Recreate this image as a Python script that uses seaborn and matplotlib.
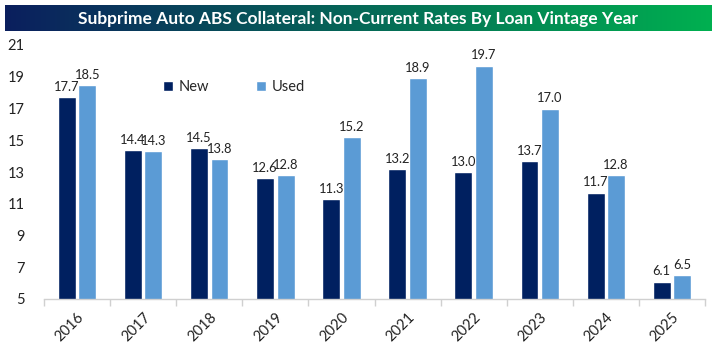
import matplotlib
matplotlib.use("Agg")
import matplotlib.pyplot as plt
import numpy as np
import pandas as pd
import seaborn as sns
from matplotlib.colors import LinearSegmentedColormap

years = ["2016", "2017", "2018", "2019", "2020", "2021", "2022", "2023", "2024", "2025"]
new_rates = [17.7, 14.4, 14.5, 12.6, 11.3, 13.2, 13.0, 13.7, 11.7, 6.1]
used_rates = [18.5, 14.3, 13.8, 12.8, 15.2, 18.9, 19.7, 17.0, 12.8, 6.5]
y_ticks = [5, 7, 9, 11, 13, 15, 17, 19, 21]
title = "Subprime Auto ABS Collateral: Non-Current Rates By Loan Vintage Year"

NAVY = "#002060"
LIGHT = "#5b9bd5"

sns.set_theme(style="white")
plt.rcParams["font.family"] = ["Lato", "DejaVu Sans"]

df = pd.DataFrame({
    "year": years * 2,
    "rate": new_rates + used_rates,
    "type": ["New"] * len(years) + ["Used"] * len(years),
})

fig = plt.figure(figsize=(7.18, 3.5), dpi=100)
ax = fig.add_axes([44 / 718, 51 / 350, 661 / 718, 254 / 350])

sns.barplot(data=df, x="year", y="rate", hue="type", order=years,
            hue_order=["New", "Used"], palette=[NAVY, LIGHT], saturation=1,
            width=0.62, gap=0.13, ax=ax, legend=True)

ax.set_ylim(5, 21)
ax.set_xlim(-0.5, len(years) - 0.5)
ax.set_yticks(y_ticks)
ax.set_yticklabels([str(t) for t in y_ticks], fontsize=10.5, color="#222222")
ax.tick_params(axis="y", length=0, pad=14)
ax.set_xlabel("")
ax.set_ylabel("")

ax.set_xticks(range(len(years)))
ax.set_xticklabels(years, rotation=45, ha="right", rotation_mode="anchor",
                   fontsize=10.5, color="#222222")
ax.tick_params(axis="x", which="major", length=0, pad=8)
ax.set_xticks(np.arange(-0.5, len(years), 1.0), minor=True)
ax.tick_params(axis="x", which="minor", length=5, width=1, color="#d0d0d0",
               bottom=True)

for side in ["left", "right", "top"]:
    ax.spines[side].set_visible(False)
ax.spines["bottom"].set_color("#d0d0d0")
ax.spines["bottom"].set_linewidth(1)

for container in ax.containers:
    ax.bar_label(container, fmt="%.1f", padding=3, fontsize=9.3,
                 color="#222222")

leg = ax.legend(loc="upper left", bbox_to_anchor=(0.16, 0.915), ncol=2,
                frameon=False, fontsize=10.5, handlelength=0.7,
                handleheight=0.7, columnspacing=3.2, handletextpad=0.4)

# gradient title banner
bax = fig.add_axes([5 / 718, (350 - 31) / 350, 707 / 718, 26 / 350])
cmap = LinearSegmentedColormap.from_list("banner", ["#0b1f5e", "#00b050"])
bax.imshow(np.linspace(0, 1, 256).reshape(1, -1), aspect="auto", cmap=cmap,
           extent=[0, 1, 0, 1])
bax.set_axis_off()
bax.text(0.5, 0.47, title, ha="center", va="center", color="white",
         fontsize=12.5, fontweight="bold", transform=bax.transAxes)

fig.savefig("out.png", dpi=100)
